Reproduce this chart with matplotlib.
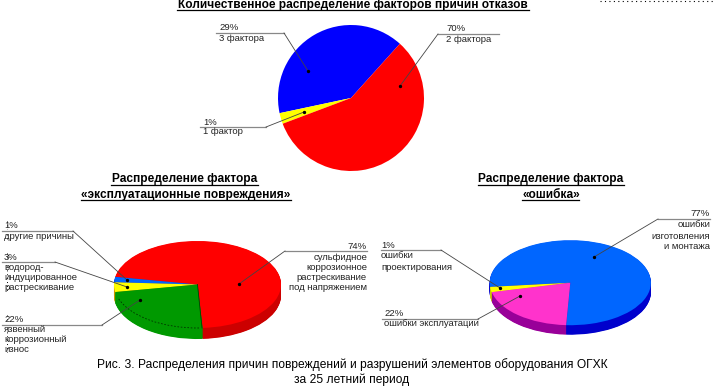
import numpy as np
import matplotlib
matplotlib.use('Agg')
import matplotlib.pyplot as plt
from matplotlib.patches import Arc

plt.rcParams['font.family'] = ['Liberation Sans', 'DejaVu Sans']

W, H = 715, 392

# shares as drawn in the picture (the printed labels differ from the drawn slices)
top_values = [40.0, 2.4, 57.6]
top_colors = ['#0000ff', '#ffff00', '#ff0000']

left_values = [71.2, 2.0, 3.6, 23.2]
left_colors = ['#ff0000', '#0066ff', '#ffff00', '#009900']
left_side = ['#cc0000', '#0000cc', '#cc9900', '#009900']

right_values = [77.4, 2.0, 20.6]
right_colors = ['#0066ff', '#ffff00', '#ff33cc']
right_side = ['#0000cc', '#cccc00', '#990099']

# text lines, x, alignment, y of each line
top_labels = [
    (['29%', '3 фактора'], 219, 'left', [27, 38]),
    (['70%', '2 фактора'], 446, 'left', [28, 39]),
    (['1%', '1 фактор'], 203, 'left', [122, 132]),
]
left_labels = [
    (['1%', 'другие причины'], 4, 'left', [225, 236]),
    (['3%', 'водород-', 'индуцированное', 'растрескивание'], 4, 'left', [257, 267, 277, 287]),
    (['22%', 'язвенный', 'коррозионный', 'износ'], 4, 'left', [319, 330, 340, 350]),
    (['74%', 'сульфидное', 'коррозионное', 'растрескивание', 'под напряжением'], 367, 'right', [246, 257, 267, 277, 287]),
]
right_labels = [
    (['1%', 'ошибки', 'проектирования'], 381, 'left', [245, 256, 267]),
    (['22%', 'ошибки эксплуатации'], 384, 'left', [313, 324]),
    (['77%', 'ошибки', 'изготовления', 'и монтажа'], 710, 'right', [213, 224, 236, 246]),
]

# leader lines: polyline from the label rule to the slice, ends with a dot
leaders = [
    [(216, 33), (284, 33), (308, 71)],
    [(499, 34), (438, 34), (400, 86)],
    [(200, 127), (266, 127), (304, 112)],
    [(2, 231), (73, 231), (127, 280)],
    [(2, 262), (55, 262), (127, 287)],
    [(2, 325), (102, 325), (140, 300)],
    [(367, 251), (285, 251), (239, 284)],
    [(381, 250), (441, 250), (500, 288)],
    [(382, 319), (478, 319), (520, 296)],
    [(710, 219), (658, 219), (594, 257)],
]

titles = [
    ('Количественное распределение факторов причин отказов', 353, 5, 177, 529, 10),
    ('Распределение фактора', 185, 179, 111, 258, 184.5),
    ('«эксплуатационные повреждения»', 186, 194.5, 81, 291, 199.5),
    ('Распределение фактора', 551, 179, 478, 624, 184.5),
    ('«ошибка»', 551, 194.5, 522, 579, 199.5),
]
caption = ['Рис. 3. Распределения причин повреждений и разрушений элементов оборудования ОГХК',
           'за 25 летний период']

# stray dotted pieces over the left labels
dot_runs = [(221, 229), (234, 240), (253, 260), (266, 291), (315, 322), (328, 352)]

fig = plt.figure(figsize=(W / 100, H / 100), dpi=100)


def pie_axes(cx, cy, rx, ry):
    a = fig.add_axes([(cx - rx) / W, 1 - (cy + ry) / H, 2 * rx / W, 2 * ry / H])
    a.patch.set_visible(False)
    return a


def draw_pie(cx, cy, rx, ry, depth, values, colors, side, start):
    a = pie_axes(cx, cy, rx, ry)
    if depth:
        for d in np.arange(depth, 0, -0.5):
            a.pie(values, colors=side, startangle=start, center=(0, -d / ry),
                  wedgeprops={'clip_on': False})
    a.pie(values, colors=colors, startangle=start, wedgeprops={'clip_on': False})
    a.set_aspect('auto')
    a.set_xlim(-1, 1)
    a.set_ylim(-1, 1)
    a.axis('off')
    return a


draw_pie(351, 98, 73, 73, 0, top_values, top_colors, None, 48)
draw_pie(197.5, 284.5, 83.5, 43.5, 11, left_values, left_colors, left_side, 273.5)
draw_pie(570.3, 282.7, 80.6, 42.5, 9.5, right_values, right_colors, right_side, 267)

over = fig.add_axes([0, 0, 1, 1])
over.set_xlim(0, W)
over.set_ylim(H, 0)
over.axis('off')
over.patch.set_visible(False)

# thin dashed rim seen through the green slice, dark seam next to the red slice
over.add_patch(Arc((197.5, 284.5), 167, 87, theta1=88, theta2=170, color='#003300', lw=0.6, ls=(0, (2, 2))))
over.plot([197.5, 202], [284.5, 328], color='#004400', lw=0.6)

for pts in leaders:
    xs, ys = zip(*pts)
    over.plot(xs[:2], ys[:2], color='#888888', lw=0.9)
    over.plot(xs[1:], ys[1:], color='#444444', lw=0.6)
    over.plot(xs[-1], ys[-1], 'o', color='black', ms=1.4)

for group in (top_labels, left_labels, right_labels):
    for lines, x, ha, ys in group:
        for line, y in zip(lines, ys):
            over.text(x, y, line, ha=ha, va='center', fontsize=6.8, color='#222222')

for text, x, y, x0, x1, uy in titles:
    over.text(x, y, text, ha='center', va='center', fontsize=8.6, fontweight='bold', color='black')
    over.plot([x0, x1], [uy, uy], color='black', lw=0.9)

over.text(352, 365, caption[0], ha='center', va='center', fontsize=8.65, color='black')
over.text(351.5, 380, caption[1], ha='center', va='center', fontsize=8.65, color='black')

# stray dotted rows left in the source image
over.plot([600, 715], [0.5, 0.5], color='black', lw=0.8, ls=(0, (1, 3)))
for y0, y1 in dot_runs:
    over.plot([7, 7], [y0, y1], color='black', lw=0.7, ls=(0, (1, 3)))

fig.savefig('out.png', dpi=100)
